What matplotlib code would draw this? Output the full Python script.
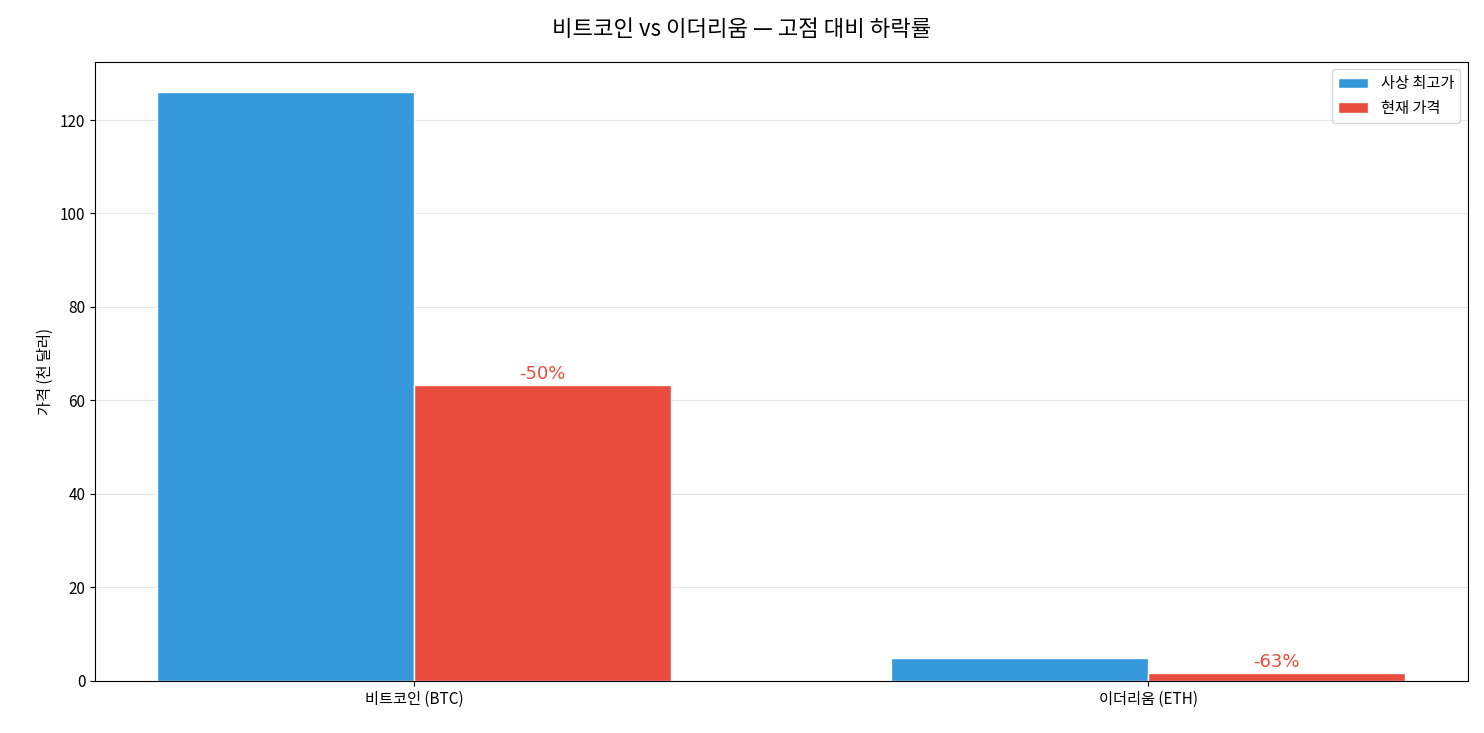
import matplotlib
matplotlib.use("Agg")
import matplotlib.pyplot as plt
import numpy as np

plt.rcParams['font.family'] = ['Noto Sans CJK KR', 'DejaVu Sans']

categories = ['비트코인 (BTC)', '이더리움 (ETH)']
ath = [126.0, 4.9]
current = [63.3, 1.6]
drops = ['-50%', '-63%']

fig = plt.figure(figsize=(14.84, 7.33), dpi=100)
ax = fig.add_axes([0.064, 0.071, 0.925, 0.845])
x = np.arange(len(categories))
w = 0.35
ax.bar(x - w/2, ath, w, color='#3498db', edgecolor='white', linewidth=1, label='사상 최고가')
b2 = ax.bar(x + w/2, current, w, color='#e74c3c', edgecolor='white', linewidth=1, label='현재 가격')
for rect, d in zip(b2, drops):
    ax.text(rect.get_x() + rect.get_width()/2, rect.get_height() + 0.5, d,
            ha='center', va='bottom', color='#e74c3c', fontsize=13, family='DejaVu Sans')
ax.set_xticks(x)
ax.set_xticklabels(categories, fontsize=11)
ax.set_ylabel('가격 (천 달러)', fontsize=11)
ax.set_ylim(0, 132.5)
ax.yaxis.grid(True, alpha=0.3)
ax.set_axisbelow(True)
ax.tick_params(axis='y', labelsize=11)
ax.legend(fontsize=11, loc='upper right')
fig.suptitle('비트코인 vs 이더리움 — 고점 대비 하락률', fontsize=16, y=0.975)
fig.savefig('out.png', dpi=100)
